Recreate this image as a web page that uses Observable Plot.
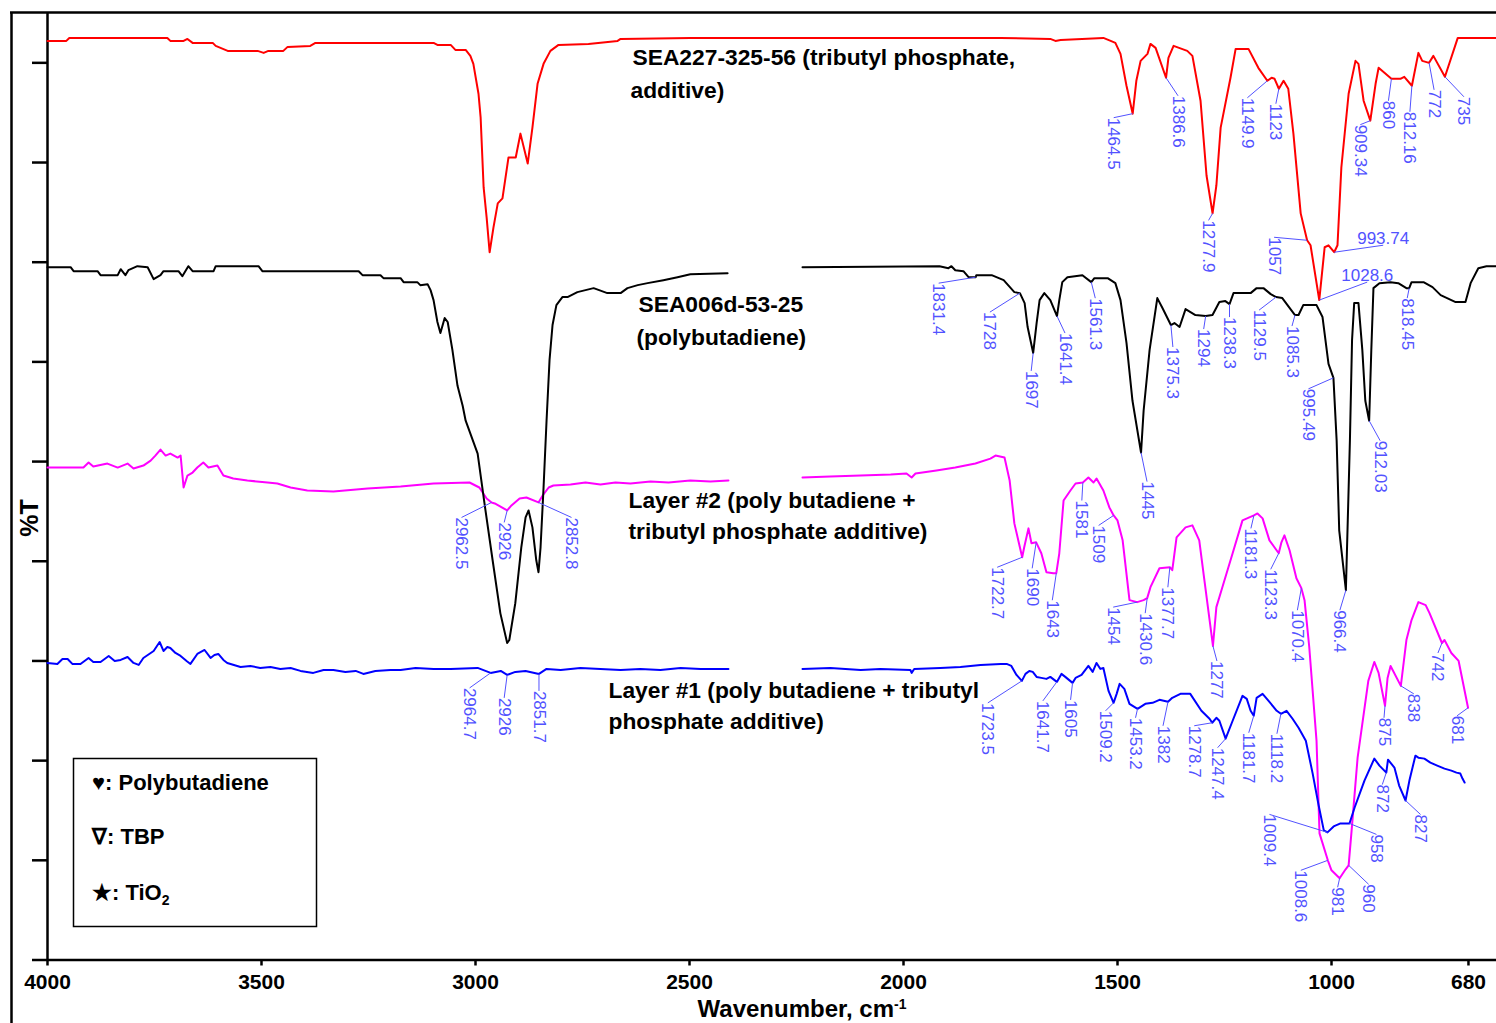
<!DOCTYPE html>
<html>
<head>
<meta charset="utf-8">
<script src="https://cdn.jsdelivr.net/npm/d3@7"></script>
<script src="https://cdn.jsdelivr.net/npm/@observablehq/plot@0.6"></script>
<style>
  html, body { margin: 0; padding: 0; background: #fff; overflow: hidden; }
</style>
</head>
<body>
<div id="chart"></div>
<script>
// ---- FTIR spectra (wavenumber in cm-1, %T offset for stacking) ----
// null marks the gap in the ATR spectra (diamond region)
const tbp = [
[4000,92.2],[3956,92.2],[3949,92.5],[3720,92.5],[3713,92.2],[3682,92.2],[3673,92.4],[3661,92.0],[3614,92.0],[3607,91.7],[3579,91.2],[3509,91.2],[3495,91.0],[3484,91.2],[3449,91.2],[3439,91.6],[3386,91.7],[3374,92.0],[3098,92.0],[3089,91.8],[3058,91.8],[3047,91.3],[3023,91.3],[3012,90.7],[3005,89.9],[2993,86.9],[2988,84.5],[2981,77.5],[2974,74.5],[2967,71.0],[2958,73.5],[2948,75.9],[2937,76.4],[2923,80.5],[2906,80.5],[2895,82.9],[2878,79.9],[2867,83.5],[2855,87.9],[2841,89.9],[2825,91.2],[2806,91.8],[2736,91.9],[2668,92.2],[2661,92.4],[2498,92.5],[1773,92.5],[1657,92.4],[1645,92.2],[1633,92.3],[1533,92.5],[1516,92.2],[1505,92.0],[1493,90.9],[1479,87.7],[1464.5,84.9],[1456,88.2],[1446,90.2],[1430,90.9],[1423,91.9],[1411,91.5],[1386.6,88.5],[1381,90.5],[1369,91.7],[1337,91.2],[1325,90.7],[1306,86.2],[1292,78.7],[1277.9,74.9],[1269,77.7],[1259,83.5],[1236,88.5],[1224,91.4],[1194,91.4],[1171,89.5],[1149.9,88.2],[1140,88.5],[1133,88.4],[1123,87.4],[1112,88.2],[1101,87.4],[1089,82.9],[1072,74.9],[1057,72.2],[1049,71.7],[1028.6,66.2],[1016,71.5],[1007,71.7],[993.74,71.0],[986,71.7],[977,79.5],[960,86.9],[944,90.2],[937,89.9],[925,86.2],[909.34,84.2],[897,87.9],[890,89.5],[860,88.4],[839,88.4],[830,88.6],[812.16,87.7],[797,91.0],[788,90.2],[772,90.0],[762,90.7],[735,88.6],[705,92.5],[615,92.5]
];

const polybutadiene = [
[4000,69.5],[3946,69.5],[3939,69.1],[3883,69.1],[3876,68.7],[3836,68.7],[3829,69.3],[3818,68.7],[3811,69.2],[3790,69.6],[3766,69.5],[3752,68.3],[3736,68.7],[3729,69.1],[3694,69.1],[3685,68.6],[3671,69.6],[3661,69.1],[3612,69.1],[3607,69.6],[3507,69.6],[3498,69.1],[3273,69.1],[3264,68.7],[3222,68.7],[3215,68.4],[3175,68.4],[3168,68.0],[3136,68.0],[3129,67.7],[3112,67.8],[3105,67.2],[3098,66.2],[3089,64.0],[3082,62.9],[3072,64.4],[3065,64.0],[3054,61.2],[3042,57.6],[3030,55.6],[3023,54.1],[2995,50.8],[2979,45.8],[2960,40.1],[2942,34.8],[2926,31.8],[2921,32.1],[2907,35.8],[2893,41.4],[2883,44.4],[2876,45.1],[2867,43.4],[2858,40.1],[2852.8,38.9],[2848,41.4],[2841,47.4],[2834,54.1],[2827,60.2],[2820,63.7],[2811,65.7],[2797,66.5],[2785,66.5],[2762,67.0],[2724,67.4],[2692,66.9],[2661,66.9],[2645,67.4],[2621,67.7],[2598,67.9],[2561,68.2],[2528,68.5],[2498,68.8],[2411,68.9],[2330,null],
[2236,69.5],[1916,69.6],[1895,69.4],[1888,69.6],[1879,69.2],[1860,69.1],[1848,68.5],[1831.4,68.5],[1830,68.7],[1794,68.7],[1766,68.2],[1741,67.0],[1728,66.9],[1717,65.9],[1710,63.5],[1697,60.9],[1689,63.9],[1682,66.2],[1671,66.9],[1657,66.2],[1641.4,64.6],[1636,66.2],[1629,68.0],[1617,68.5],[1582,68.7],[1561.3,68.0],[1554,68.4],[1523,68.4],[1505,67.9],[1493,66.2],[1479,61.9],[1465,56.1],[1445,50.9],[1439,55.1],[1425,61.2],[1407,66.4],[1395,65.4],[1375.3,63.7],[1367,63.9],[1355,63.5],[1341,65.3],[1318,64.7],[1294,64.6],[1278,64.7],[1262,66.0],[1248,66.1],[1238.3,65.8],[1229,66.9],[1189,66.9],[1175,67.4],[1159,67.4],[1142,66.8],[1129.5,66.5],[1115,66.4],[1085.3,64.7],[1077,64.7],[1066,65.7],[1035,65.7],[1021,64.5],[1007,59.8],[995.49,58.4],[988,52.1],[982,43.1],[966.4,37.1],[962,44.1],[957,52.1],[952,62.2],[947,65.9],[937,65.9],[928,61.2],[921,56.1],[912.03,54.1],[907,61.2],[902,67.4],[888,67.9],[862,68.0],[844,67.9],[825,67.4],[818.45,67.4],[813,68.0],[785,68.0],[764,67.5],[745,66.7],[710,66.0],[687,66.0],[675,67.9],[657,69.4],[638,69.6],[615,69.6]
];

const layer2 = [
[4000,49.4],[3916,49.4],[3904,49.9],[3893,49.5],[3860,49.8],[3836,49.4],[3813,49.8],[3799,49.3],[3776,49.6],[3759,50.1],[3748,50.6],[3736,51.2],[3724,50.6],[3713,50.8],[3696,50.4],[3689,50.6],[3682,47.4],[3673,48.6],[3661,48.9],[3650,49.4],[3636,49.9],[3624,49.4],[3603,49.6],[3589,48.6],[3566,48.3],[3533,48.1],[3486,47.9],[3463,47.8],[3432,47.4],[3393,47.1],[3332,47.0],[3252,47.3],[3175,47.5],[3098,47.8],[3014,47.9],[2991,47.4],[2974,46.3],[2962.5,45.9],[2955,45.8],[2926,45.1],[2916,45.6],[2897,46.3],[2881,46.4],[2852.8,45.9],[2843,46.6],[2829,47.4],[2818,47.6],[2778,47.7],[2743,47.9],[2708,47.7],[2673,47.9],[2638,47.8],[2591,48.0],[2549,47.9],[2498,48.1],[2451,48.0],[2409,48.1],[2330,null],
[2236,48.4],[2171,48.5],[2100,48.6],[2030,48.7],[1993,48.8],[1981,48.4],[1972,48.8],[1923,49.1],[1879,49.4],[1832,49.8],[1797,50.3],[1785,50.6],[1764,50.4],[1752,48.1],[1741,43.8],[1722.7,40.4],[1718,41.4],[1708,43.3],[1701,41.8],[1690,41.9],[1678,40.8],[1666,38.9],[1650,38.8],[1643,38.8],[1636,40.8],[1626,46.1],[1610,47.1],[1598,47.8],[1581,47.9],[1568,48.4],[1556,47.9],[1549,48.3],[1533,47.1],[1519,45.4],[1509,44.6],[1500,44.1],[1488,42.1],[1472,36.1],[1454,35.9],[1439,36.1],[1430.6,36.3],[1423,37.4],[1402,39.3],[1377.7,39.4],[1372,39.1],[1362,42.4],[1341,43.4],[1325,43.6],[1309,42.1],[1297,38.1],[1277,31.5],[1269,35.4],[1255,37.4],[1231,40.8],[1208,44.1],[1192,44.4],[1181.3,44.6],[1173,44.8],[1161,44.3],[1145,42.1],[1123.3,40.8],[1117,41.9],[1110,42.6],[1098,41.1],[1082,38.3],[1070.4,37.3],[1063,36.1],[1052,31.4],[1035,22.0],[1028,12.7],[1008.6,10.0],[1000,9.0],[981,8.2],[967,9.1],[960,9.5],[953,13.0],[939,20.3],[914,28.0],[900,29.9],[890,28.8],[875,25.5],[869,28.3],[862,29.5],[838,27.5],[825,32.1],[813,34.1],[797,35.9],[780,35.6],[771,34.8],[742,31.8],[736,32.1],[720,30.8],[703,30.0],[681,25.3]
];

const layer1 = [
[4000,29.8],[3977,29.7],[3965,30.2],[3953,30.2],[3942,29.7],[3923,29.7],[3904,30.3],[3893,29.9],[3876,29.9],[3857,30.5],[3843,30.0],[3829,30.1],[3813,30.4],[3799,29.8],[3787,29.6],[3776,30.3],[3752,31.0],[3738,31.9],[3729,31.0],[3720,31.4],[3713,31.3],[3701,30.8],[3689,30.5],[3675,30.0],[3666,29.7],[3650,30.7],[3633,31.1],[3619,30.3],[3610,30.6],[3601,30.7],[3589,30.1],[3580,29.8],[3549,29.4],[3526,29.5],[3503,29.3],[3479,29.4],[3456,29.2],[3432,29.3],[3409,29.0],[3379,28.8],[3355,29.1],[3332,29.1],[3304,28.9],[3280,29.0],[3262,28.7],[3234,29.0],[3199,29.1],[3175,29.1],[3140,29.3],[3098,29.2],[3058,29.2],[2995,29.3],[2964.7,28.8],[2941,29.0],[2926,28.6],[2907,28.9],[2883,29.0],[2851.7,28.7],[2834,29.2],[2801,29.1],[2755,29.3],[2708,29.2],[2661,29.1],[2615,29.2],[2568,29.1],[2521,29.3],[2474,29.2],[2409,29.2],[2330,null],
[2236,29.2],[2171,29.3],[2100,29.1],[2054,29.2],[1984,29.1],[1981,28.8],[1975,29.2],[1914,29.3],[1867,29.4],[1820,29.6],[1773,29.7],[1759,29.7],[1748,29.5],[1736,28.6],[1723.5,28.0],[1715,28.7],[1706,29.0],[1698,28.9],[1689,28.4],[1678,28.3],[1666,28.2],[1657,28.4],[1641.7,27.9],[1631,28.7],[1622,28.4],[1605,27.8],[1598,28.3],[1584,28.6],[1568,29.5],[1558,28.9],[1549,29.8],[1540,29.2],[1533,29.3],[1521,27.0],[1509.2,25.8],[1502,26.7],[1495,27.7],[1484,27.2],[1472,25.7],[1453.2,25.2],[1435,25.7],[1418,25.8],[1402,26.1],[1382,25.9],[1372,26.3],[1353,26.7],[1330,26.7],[1304,25.0],[1285,24.2],[1278.7,23.8],[1269,24.3],[1262,24.0],[1247.4,22.2],[1231,24.0],[1208,26.5],[1198,26.2],[1189,25.0],[1181.7,24.5],[1175,26.3],[1161,26.7],[1147,26.0],[1128,25.0],[1118.2,24.7],[1105,25.0],[1091,24.2],[1077,23.3],[1060,22.0],[1044,18.7],[1030,15.5],[1018,13.0],[1009.4,12.8],[995,13.4],[979,13.7],[958,13.7],[946,15.3],[923,18.0],[900,20.2],[888,19.5],[872,18.8],[868,20.1],[853,19.3],[842,17.5],[827,16.0],[818,18.0],[804,20.5],[797,20.3],[783,20.2],[769,19.8],[753,19.5],[736,19.2],[720,19.0],[708,18.8],[699,18.7],[694,18.2],[689,17.8]
];

// ---- labelled peak positions (cm-1) ----
const tbpPeaks = [1464.5, 1386.6, 1277.9, 1149.9, 1123, 1057, 1028.6, 993.74, 909.34, 860, 812.16, 772, 735];
const pbPeaks = [1831.4, 1728, 1697, 1641.4, 1561.3, 1445, 1375.3, 1294, 1238.3, 1129.5, 1085.3, 995.49, 966.4, 912.03, 818.45];
const layer2Peaks = [2962.5, 2926, 2852.8, 1722.7, 1690, 1643, 1581, 1509, 1454, 1430.6, 1377.7, 1277, 1181.3, 1123.3, 1070.4, 1008.6, 981, 960, 875, 838, 742, 681];
const layer1Peaks = [2964.7, 2926, 2851.7, 1723.5, 1641.7, 1605, 1509.2, 1453.2, 1382, 1278.7, 1247.4, 1181.7, 1118.2, 1009.4, 958, 872, 827];

// ---- axis ticks ----
const xTicks = [4000, 3500, 3000, 2500, 2000, 1500, 1000, 680];
const yTicks = [0, 10, 20, 30, 40, 50, 60, 70, 80, 90];

// ---- layout: leader-line offsets (px) from each peak to its label; "h" = horizontal label ----
const tbpLabelOffsets = [[-19,4],[12,18],[-4,7],[-20,17],[-3,15],[-33,-3],[48,-18,"h"],[49,-7,"h"],[-10,4],[-3,22],[-2,26],[5,27],[19,20]];
const pbLabelOffsets = [[-37,6],[-30,19],[-2,18],[8,17],[4,16],[6,29],[2,22],[-2,13],[0,13],[-17,13],[-3,11],[-25,11],[-6,20],[11,20],[-2,10]];
const layer2LabelOffsets = [[-30,15],[-3,12],[33,15],[-25,10],[-4,26],[-4,27],[-1,18],[-15,10],[-24,5],[-2,15],[-2,20],[4,15],[-3,13],[-8,16],[-4,22],[-27,10],[-2,9],[20,19],[-1,12],[13,8],[-4,10],[-11,8]];
const layer1LabelOffsets = [[-21,15],[-3,23],[0,17],[-34,22],[-14,19],[-2,17],[-8,8],[-2,9],[-5,24],[-18,3],[-8,9],[-5,17],[-4,20],[-58,-18],[27,11],[-4,12],[15,14]];

const W = 1496, H = 1023;
const xDomain = [4000, 614.5], xRange = [47, 1496];
const yDomain = [0, 95], yRange = [959.5, 12.5];
const FONT = "'Liberation Sans', Arial, Helvetica, sans-serif";
const LABEL_COLOR = "#5252ff";

const X = Plot.scale({x: {domain: xDomain, range: xRange}});
const Y = Plot.scale({y: {domain: yDomain, range: yRange}});

// linear interpolation of a spectrum at a given wavenumber
function valueAt(series, w) {
  for (let i = 0; i < series.length - 1; i++) {
    const [w0, v0] = series[i], [w1, v1] = series[i + 1];
    if (v0 == null || v1 == null) continue;
    if ((w0 - w) * (w1 - w) <= 0) return w0 === w1 ? v0 : v0 + (v1 - v0) * (w - w0) / (w1 - w0);
  }
  return NaN;
}

function annotate(series, peaks, offsets) {
  return peaks.map((w, i) => {
    const v = valueAt(series, w);
    const [dx, dy, kind] = offsets[i];
    return {
      w, v,
      lw: X.invert(X.apply(w) + dx),
      lv: Y.invert(Y.apply(v) + dy),
      label: String(w),
      horizontal: kind === "h"
    };
  });
}

const notes = [
  ...annotate(tbp, tbpPeaks, tbpLabelOffsets),
  ...annotate(polybutadiene, pbPeaks, pbLabelOffsets),
  ...annotate(layer2, layer2Peaks, layer2LabelOffsets),
  ...annotate(layer1, layer1Peaks, layer1LabelOffsets)
];

// curve captions: [text, left px, centre px]
const captions = [
  ["SEA227-325-56 (tributyl phosphate,", 632, 57],
  ["additive)", 630, 90],
  ["SEA006d-53-25", 638, 304],
  ["(polybutadiene)", 636, 337],
  ["Layer #2 (poly butadiene +", 628, 500],
  ["tributyl phosphate additive)", 628, 531],
  ["Layer #1 (poly butadiene + tributyl", 608, 690],
  ["phosphate additive)", 608, 721]
];

const lineOpts = (color) => ({x: d => d[0], y: d => d[1], stroke: color, strokeWidth: 2, strokeLinejoin: "round"});

const svg = Plot.plot({
  width: W, height: H,
  marginLeft: 47, marginRight: 0, marginTop: 12.5, marginBottom: 63.5,
  style: {fontFamily: FONT, background: "white", color: "black", overflow: "visible"},
  x: {domain: xDomain, range: xRange},
  y: {domain: yDomain, range: yRange},
  marks: [
    Plot.axisY({ticks: yTicks, tickSize: 15, tickFormat: () => "", label: null, strokeWidth: 2.5}),
    Plot.axisX({ticks: xTicks, tickSize: 6, tickPadding: 8, tickFormat: d => String(d), label: null,
                strokeWidth: 2.5, fontSize: 21, fontWeight: "bold"}),
    Plot.ruleX([xDomain[0]], {strokeWidth: 2.5}),
    Plot.ruleY([0], {strokeWidth: 2.5}),
    Plot.line(layer2, lineOpts("#ff00ff")),
    Plot.line(layer1, lineOpts("#0000ff")),
    Plot.line(polybutadiene, lineOpts("#000000")),
    Plot.line(tbp, lineOpts("#ff0000")),
    Plot.link(notes, {x1: "w", y1: "v", x2: "lw", y2: "lv", stroke: LABEL_COLOR, strokeWidth: 1}),
    Plot.text(notes.filter(d => !d.horizontal), {
      x: "lw", y: "lv", text: "label", rotate: 90, textAnchor: "start", lineAnchor: "middle",
      fill: LABEL_COLOR, fontSize: 17
    }),
    Plot.text(notes.filter(d => d.horizontal), {
      x: "lw", y: "lv", text: "label", textAnchor: "middle", lineAnchor: "bottom", dy: -1,
      fill: LABEL_COLOR, fontSize: 17
    }),
    Plot.text(captions, {
      text: d => d[0], frameAnchor: "top-left",
      x: d => X.invert(d[1]), y: d => Y.invert(d[2]),
      textAnchor: "start", lineAnchor: "middle", fontSize: 22.8, fontWeight: "bold", fill: "black"
    })
  ]
});

const s = d3.select(svg);
// outer border (left and top edges)
s.append("line").attr("x1", 11.5).attr("x2", 11.5).attr("y1", 12.5).attr("y2", H)
  .attr("stroke", "black").attr("stroke-width", 2.5);
s.append("line").attr("x1", 10).attr("x2", W).attr("y1", 12.5).attr("y2", 12.5)
  .attr("stroke", "black").attr("stroke-width", 2.5);

// y-axis title
s.append("text").attr("transform", "translate(38,518) rotate(-90)")
  .attr("text-anchor", "middle").attr("font-family", FONT).attr("font-weight", "bold")
  .attr("font-size", 25).text("%T");

// x-axis title with superscript
const xt = s.append("text").attr("x", 802).attr("y", 1017).attr("text-anchor", "middle")
  .attr("font-family", FONT).attr("font-weight", "bold").attr("font-size", 24);
xt.append("tspan").text("Wavenumber, cm");
xt.append("tspan").attr("dy", -8).attr("font-size", 14).text("-1");

// key box
const key = s.append("g").attr("font-family", FONT).attr("font-weight", "bold")
  .attr("font-size", 22).attr("text-anchor", "start");
key.append("rect").attr("x", 73.5).attr("y", 758.5).attr("width", 243).attr("height", 168)
  .attr("fill", "white").attr("stroke", "black").attr("stroke-width", 1.5);
key.append("text").attr("x", 92).attr("y", 790).text("\u2665: Polybutadiene");
key.append("text").attr("x", 92).attr("y", 844).text("\u2207: TBP");
const ti = key.append("text").attr("x", 92).attr("y", 900);
ti.append("tspan").text("\u2605: TiO");
ti.append("tspan").attr("dy", 5).attr("font-size", 14).text("2");

document.getElementById("chart").appendChild(svg);
</script>
</body>
</html>
